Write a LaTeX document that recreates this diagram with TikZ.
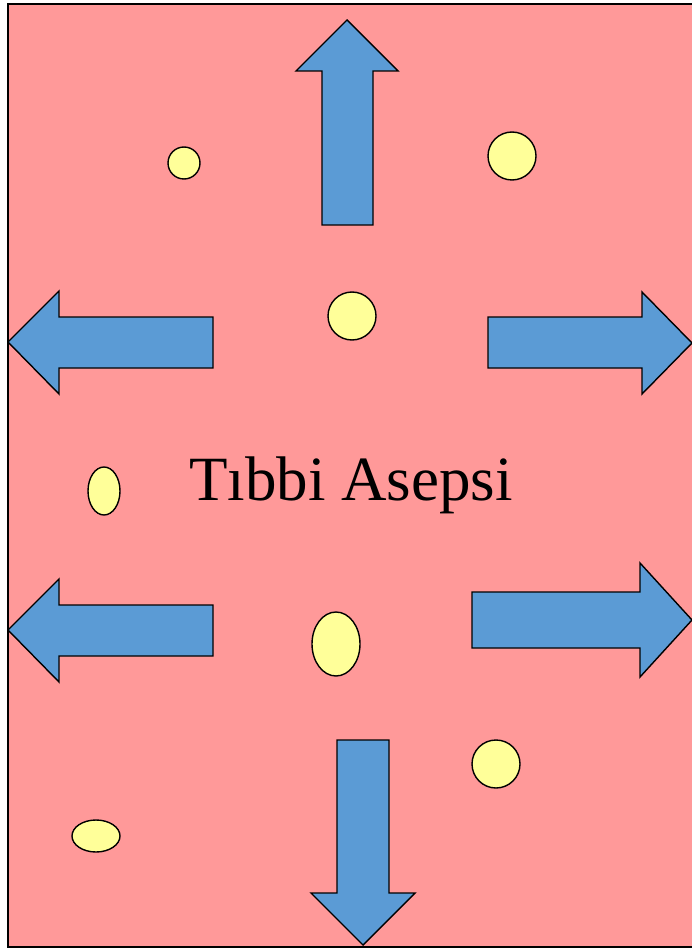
\documentclass[tikz,border=0pt]{standalone}
\usepackage{fontspec}
\setmainfont{Liberation Serif}
\definecolor{bgpink}{HTML}{FF9999}
\definecolor{arrowblue}{HTML}{5B9BD5}
\definecolor{germyellow}{HTML}{FFFF99}
\tikzset{
  blockarrow/.style={fill=arrowblue, draw=black, line width=1.4pt, line join=miter},
  germ/.style={fill=germyellow, draw=black, line width=1.4pt}
}
\begin{document}
\begin{tikzpicture}[x=1pt,y=-1pt]
    \useasboundingbox (0,0) rectangle (692,949);
    \fill[fill=bgpink] (8,4) rectangle (720,947);
    \draw[line width=2.6pt] (720,4) -- (8,4) -- (8,947) -- (720,947);

    % up and down
    \draw[blockarrow] (322,225) -- (322,71) -- (296,71) -- (347,20) -- (398,71) -- (373,71) -- (373,225) -- cycle;
    \draw[blockarrow] (337,740) -- (337,893) -- (311,893) -- (363,945) -- (415,893) -- (389,893) -- (389,740) -- cycle;

    % left
    \draw[blockarrow] (213,317) -- (59,317) -- (59,291) -- (8,342) -- (59,394) -- (59,368) -- (213,368) -- cycle;
    \draw[blockarrow] (213,605) -- (59,605) -- (59,579) -- (8,630) -- (59,682) -- (59,656) -- (213,656) -- cycle;

    % right
    \draw[blockarrow] (488,317) -- (642,317) -- (642,292) -- (692,343) -- (642,394) -- (642,368) -- (488,368) -- cycle;
    \draw[blockarrow] (472,592) -- (640,592) -- (640,563) -- (692,620) -- (640,677) -- (640,648) -- (472,648) -- cycle;

    % germs
    \draw[germ] (184,163) ellipse [x radius=16pt, y radius=16pt];
    \draw[germ] (512,156) ellipse [x radius=24pt, y radius=24pt];
    \draw[germ] (352,316) ellipse [x radius=24pt, y radius=24pt];
    \draw[germ] (104,491) ellipse [x radius=16pt, y radius=24pt];
    \draw[germ] (336,644) ellipse [x radius=24pt, y radius=32pt];
    \draw[germ] (496,764) ellipse [x radius=24pt, y radius=24pt];
    \draw[germ] (96,836)  ellipse [x radius=24pt, y radius=16pt];

    \node[anchor=base, inner sep=0pt, font=\fontsize{63}{76}\selectfont] (title) at (351,500) {Tıbbi Asepsi};
\end{tikzpicture}
\end{document}
